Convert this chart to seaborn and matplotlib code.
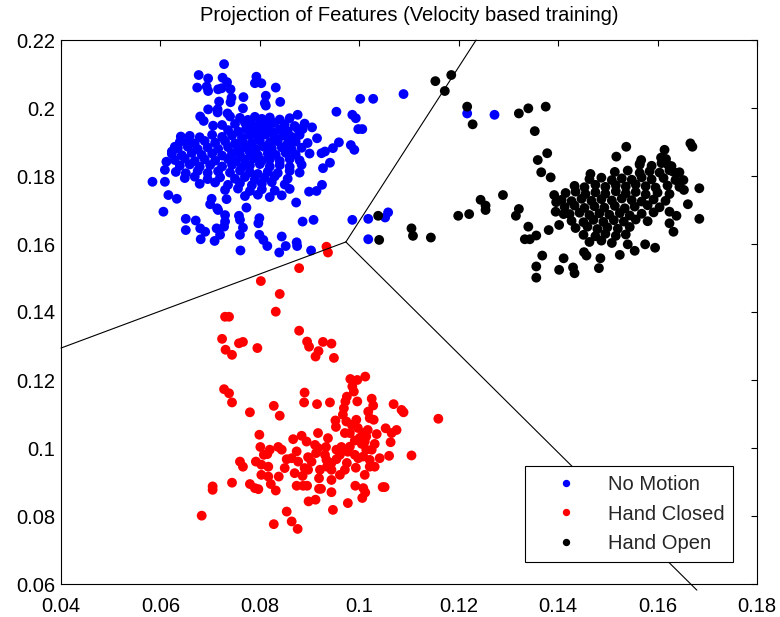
import matplotlib
matplotlib.use("Agg")
import matplotlib.pyplot as plt
import seaborn as sns
import pandas as pd

# Projected feature samples per class (x, y)
no_motion = [
    (0.0728, 0.2129), (0.0677, 0.2097), (0.0696, 0.2087), (0.0725, 0.2089), (0.0734, 0.2076),
    (0.0793, 0.2092), (0.0790, 0.2073), (0.0803, 0.2073), (0.0674, 0.2060), (0.0693, 0.2063),
    (0.0696, 0.2050), (0.0716, 0.2055), (0.0723, 0.2058), (0.0741, 0.2055), (0.0832, 0.2060),
    (0.0812, 0.2036), (0.0743, 0.2030), (0.0741, 0.2017), (0.0767, 0.2032), (0.0718, 0.2019),
    (0.0810, 0.2014), (0.0812, 0.2007), (0.0841, 0.2018), (0.1002, 0.2027), (0.1028, 0.2027),
    (0.1089, 0.2041), (0.0696, 0.1996), (0.0715, 0.1996), (0.0715, 0.1987), (0.0735, 0.1984),
    (0.0740, 0.1975), (0.0766, 0.1999), (0.0876, 0.1980), (0.0954, 0.1989), (0.0986, 0.1980),
    (0.0993, 0.1970), (0.0680, 0.1975), (0.0687, 0.1962), (0.0706, 0.1948), (0.0724, 0.1950),
    (0.0998, 0.1938), (0.1006, 0.1938), (0.0905, 0.1943), (0.0886, 0.1938), (0.0641, 0.1916),
    (0.0655, 0.1899), (0.0629, 0.1886), (0.0623, 0.1872), (0.0612, 0.1842), (0.0609, 0.1818),
    (0.0609, 0.1783), (0.0584, 0.1783), (0.0616, 0.1744), (0.0633, 0.1733), (0.0606, 0.1695),
    (0.0915, 0.1911), (0.0959, 0.1899), (0.0983, 0.1891), (0.0990, 0.1877), (0.0947, 0.1882),
    (0.0931, 0.1872), (0.0924, 0.1867), (0.0941, 0.1839), (0.0927, 0.1823), (0.0925, 0.1774),
    (0.0914, 0.1756), (0.0899, 0.1754), (0.0873, 0.1722), (0.0773, 0.1707), (0.0703, 0.1733),
    (0.0700, 0.1717), (0.0714, 0.1705), (0.0716, 0.1700), (0.0733, 0.1732), (0.0651, 0.1674),
    (0.0671, 0.1669), (0.0651, 0.1641), (0.0680, 0.1646), (0.0690, 0.1636), (0.0681, 0.1614),
    (0.0713, 0.1646), (0.0720, 0.1627), (0.0709, 0.1609), (0.0730, 0.1685), (0.0730, 0.1666),
    (0.0728, 0.1651), (0.0758, 0.1683), (0.0760, 0.1671), (0.0766, 0.1648), (0.0760, 0.1627),
    (0.0761, 0.1581), (0.0799, 0.1676), (0.0797, 0.1661), (0.0799, 0.1627), (0.0807, 0.1612),
    (0.0815, 0.1594), (0.0844, 0.1622), (0.0852, 0.1594), (0.0839, 0.1575), (0.0874, 0.1605),
    (0.0875, 0.1594), (0.0886, 0.1666), (0.0908, 0.1671), (0.0903, 0.1581), (0.0986, 0.1671),
    (0.1018, 0.1674), (0.1018, 0.1614), (0.1052, 0.1678), (0.1058, 0.1693), (0.1217, 0.1984),
    (0.1272, 0.1980),
    (0.0760, 0.1971), (0.0776, 0.1965), (0.0790, 0.1974), (0.0804, 0.1968), (0.0820, 0.1972),
    (0.0840, 0.1966), (0.0860, 0.1970),
    (0.0750, 0.1953), (0.0770, 0.1957), (0.0784, 0.1950), (0.0800, 0.1955), (0.0816, 0.1949),
    (0.0830, 0.1956), (0.0850, 0.1952), (0.0870, 0.1947), (0.0890, 0.1954),
    (0.0736, 0.1935), (0.0756, 0.1931), (0.0772, 0.1938), (0.0790, 0.1933), (0.0806, 0.1937),
    (0.0824, 0.1930), (0.0840, 0.1936), (0.0856, 0.1932), (0.0876, 0.1939),
    (0.0659, 0.1918), (0.0679, 0.1914), (0.0704, 0.1921), (0.0724, 0.1915), (0.0744, 0.1919),
    (0.0764, 0.1913), (0.0780, 0.1920), (0.0796, 0.1916), (0.0812, 0.1922), (0.0830, 0.1914),
    (0.0848, 0.1919), (0.0864, 0.1915), (0.0880, 0.1921),
    (0.0639, 0.1900), (0.0669, 0.1896), (0.0689, 0.1903), (0.0710, 0.1898), (0.0730, 0.1902),
    (0.0750, 0.1896), (0.0766, 0.1901), (0.0784, 0.1897), (0.0800, 0.1904), (0.0820, 0.1898),
    (0.0836, 0.1902), (0.0856, 0.1896), (0.0872, 0.1901), (0.0896, 0.1897),
    (0.0635, 0.1882), (0.0655, 0.1886), (0.0675, 0.1879), (0.0695, 0.1884), (0.0716, 0.1880),
    (0.0736, 0.1885), (0.0756, 0.1878), (0.0772, 0.1883), (0.0792, 0.1879), (0.0808, 0.1886),
    (0.0824, 0.1881), (0.0844, 0.1884), (0.0864, 0.1878), (0.0884, 0.1883),
    (0.0623, 0.1865), (0.0643, 0.1861), (0.0663, 0.1868), (0.0683, 0.1862), (0.0704, 0.1866),
    (0.0724, 0.1860), (0.0744, 0.1867), (0.0760, 0.1863), (0.0780, 0.1869), (0.0796, 0.1861),
    (0.0816, 0.1866), (0.0832, 0.1862), (0.0852, 0.1868), (0.0872, 0.1863), (0.0900, 0.1866),
    (0.0629, 0.1847), (0.0649, 0.1851), (0.0669, 0.1844), (0.0689, 0.1849), (0.0710, 0.1845),
    (0.0736, 0.1850), (0.0752, 0.1843), (0.0770, 0.1848), (0.0788, 0.1852), (0.0804, 0.1845),
    (0.0820, 0.1849), (0.0840, 0.1844), (0.0860, 0.1850), (0.0880, 0.1846),
    (0.0639, 0.1830), (0.0659, 0.1834), (0.0679, 0.1827), (0.0700, 0.1832), (0.0724, 0.1828),
    (0.0744, 0.1833), (0.0764, 0.1826), (0.0780, 0.1831), (0.0800, 0.1835), (0.0820, 0.1828),
    (0.0840, 0.1832), (0.0860, 0.1827), (0.0884, 0.1833),
    (0.0631, 0.1812), (0.0651, 0.1808), (0.0675, 0.1815), (0.0695, 0.1809), (0.0716, 0.1814),
    (0.0740, 0.1810), (0.0760, 0.1816), (0.0780, 0.1811), (0.0796, 0.1806), (0.0816, 0.1813),
    (0.0836, 0.1809), (0.0860, 0.1815), (0.0880, 0.1810),
    (0.0649, 0.1794), (0.0669, 0.1798), (0.0695, 0.1791), (0.0720, 0.1796), (0.0750, 0.1792),
    (0.0770, 0.1797), (0.0790, 0.1790), (0.0810, 0.1795), (0.0830, 0.1799), (0.0856, 0.1792),
    (0.0679, 0.1777), (0.0710, 0.1781), (0.0736, 0.1774), (0.0760, 0.1779), (0.0784, 0.1773),
    (0.0804, 0.1778), (0.0824, 0.1782), (0.0850, 0.1775),
    (0.0730, 0.1759), (0.0756, 0.1763), (0.0780, 0.1756), (0.0804, 0.1761), (0.0830, 0.1757),
    (0.0860, 0.1762),
    (0.0770, 0.1741), (0.0796, 0.1745), (0.0820, 0.1738), (0.0844, 0.1743),
]

hand_closed = [
    (0.0879, 0.1529), (0.0802, 0.1491), (0.0840, 0.1453), (0.0832, 0.1401), (0.0730, 0.1386),
    (0.0738, 0.1386), (0.0879, 0.1345), (0.0724, 0.1321), (0.0758, 0.1308), (0.0766, 0.1312),
    (0.0731, 0.1289), (0.0744, 0.1274), (0.0795, 0.1294), (0.0895, 0.1313), (0.0899, 0.1298),
    (0.0927, 0.1312), (0.0944, 0.1307), (0.0918, 0.1285), (0.0912, 0.1269), (0.0949, 0.1265),
    (0.0934, 0.1592), (0.0937, 0.1575), (0.0982, 0.1203), (0.0996, 0.1200), (0.1012, 0.1210),
    (0.0986, 0.1181), (0.0989, 0.1166), (0.0728, 0.1173), (0.0738, 0.1161), (0.0744, 0.1134),
    (0.0890, 0.1163), (0.0889, 0.1134), (0.0915, 0.1129), (0.0941, 0.1134), (0.0828, 0.1124),
    (0.0840, 0.1095), (0.0780, 0.1105), (0.0972, 0.1137), (0.0975, 0.1151), (0.0969, 0.1117),
    (0.0967, 0.1098), (0.0996, 0.1137), (0.1025, 0.1145), (0.1028, 0.1125), (0.1069, 0.1129),
    (0.1085, 0.1112), (0.1089, 0.1105), (0.1159, 0.1086), (0.0952, 0.1081), (0.0974, 0.1078),
    (0.0994, 0.1083), (0.1018, 0.1107), (0.1021, 0.1088), (0.1029, 0.1083), (0.1053, 0.1058),
    (0.1075, 0.1053), (0.1065, 0.1044), (0.0799, 0.1039), (0.0867, 0.1026), (0.0884, 0.1036),
    (0.0917, 0.1044), (0.0937, 0.1029), (0.0971, 0.1044), (0.0981, 0.1044), (0.1008, 0.1044),
    (0.1014, 0.1034), (0.1035, 0.1041), (0.1063, 0.1017), (0.0894, 0.1019), (0.0911, 0.1009),
    (0.0801, 0.1003), (0.0820, 0.0995), (0.0837, 0.1003), (0.0844, 0.0995), (0.0808, 0.0980),
    (0.0815, 0.0982), (0.0874, 0.0990), (0.0913, 0.0985), (0.0931, 0.0980), (0.0954, 0.0995),
    (0.0964, 0.1003), (0.0981, 0.1004), (0.0991, 0.1022), (0.1011, 0.1019), (0.1031, 0.1012),
    (0.1014, 0.0995), (0.1060, 0.0977), (0.1105, 0.0978), (0.0760, 0.0960), (0.0766, 0.0945),
    (0.0792, 0.0960), (0.0803, 0.0951), (0.0817, 0.0945), (0.0854, 0.0967), (0.0864, 0.0970),
    (0.0877, 0.0960), (0.0897, 0.0973), (0.0904, 0.0960), (0.0934, 0.0965), (0.0944, 0.0956),
    (0.0954, 0.0967), (0.0975, 0.0956), (0.0991, 0.0980), (0.0998, 0.0970), (0.1008, 0.0975),
    (0.1021, 0.0965), (0.1031, 0.0945), (0.1041, 0.0970), (0.0850, 0.0941), (0.0870, 0.0926),
    (0.0890, 0.0941), (0.0897, 0.0936), (0.0886, 0.0918), (0.0921, 0.0936), (0.0919, 0.0911),
    (0.0935, 0.0945), (0.0944, 0.0936), (0.1011, 0.0921), (0.1021, 0.0945), (0.0803, 0.0921),
    (0.0817, 0.0916), (0.0838, 0.0916), (0.0744, 0.0898), (0.0780, 0.0894), (0.0790, 0.0882),
    (0.0797, 0.0879), (0.0822, 0.0894), (0.0832, 0.0875), (0.0874, 0.0889), (0.0887, 0.0889),
    (0.0895, 0.0889), (0.0919, 0.0880), (0.0923, 0.0880), (0.0944, 0.0906), (0.0944, 0.0870),
    (0.0992, 0.0889), (0.1008, 0.0882), (0.1012, 0.0869), (0.1006, 0.0853), (0.1047, 0.0885),
    (0.1051, 0.0885), (0.0705, 0.0887), (0.0705, 0.0877), (0.0898, 0.0843), (0.0912, 0.0848),
    (0.0977, 0.0838), (0.0947, 0.0818), (0.0683, 0.0801), (0.0854, 0.0813), (0.0864, 0.0784),
    (0.0876, 0.0762), (0.0828, 0.0776),
    (0.0985, 0.1068), (0.0997, 0.1059), (0.1017, 0.1053), (0.0953, 0.1062), (0.0977, 0.0989),
    (0.1001, 0.1030), (0.1005, 0.1012), (0.0961, 0.0980), (0.1025, 0.0995), (0.0933, 0.1003),
    (0.0917, 0.1000), (0.0971, 0.0936), (0.0993, 0.0942), (0.0961, 0.0921),
]

hand_open = [
    (0.1185, 0.2097), (0.1153, 0.2079), (0.1172, 0.2050), (0.1217, 0.2004), (0.1228, 0.1952),
    (0.1321, 0.1984), (0.1340, 0.1999), (0.1375, 0.2004), (0.1353, 0.1932), (0.1378, 0.1867),
    (0.1359, 0.1847), (0.1366, 0.1811), (0.1385, 0.1796), (0.1537, 0.1886), (0.1517, 0.1857),
    (0.1465, 0.1806), (0.1567, 0.1847), (0.1564, 0.1833), (0.1614, 0.1877), (0.1607, 0.1854),
    (0.1617, 0.1850), (0.1621, 0.1833), (0.1666, 0.1896), (0.1670, 0.1886), (0.1684, 0.1764),
    (0.1684, 0.1674), (0.1661, 0.1717), (0.1652, 0.1788), (0.1653, 0.1759), (0.1631, 0.1813),
    (0.1638, 0.1808), (0.1392, 0.1744), (0.1396, 0.1723), (0.1395, 0.1695), (0.1411, 0.1688),
    (0.1381, 0.1641), (0.1402, 0.1656), (0.1340, 0.1651), (0.1356, 0.1625), (0.1333, 0.1614),
    (0.1343, 0.1614), (0.1321, 0.1703), (0.1315, 0.1683), (0.1289, 0.1744), (0.1244, 0.1730),
    (0.1254, 0.1713), (0.1254, 0.1700), (0.1199, 0.1683), (0.1221, 0.1688), (0.1144, 0.1619),
    (0.1368, 0.1566), (0.1356, 0.1534), (0.1356, 0.1501), (0.1411, 0.1558), (0.1402, 0.1524),
    (0.1430, 0.1531), (0.1433, 0.1514), (0.1482, 0.1529), (0.1485, 0.1558), (0.1452, 0.1576),
    (0.1457, 0.1566), (0.1524, 0.1568), (0.1540, 0.1599), (0.1554, 0.1580), (0.1575, 0.1599),
    (0.1595, 0.1589), (0.1632, 0.1636), (0.1624, 0.1661), (0.1624, 0.1695), (0.1638, 0.1683),
    (0.1038, 0.1683), (0.1040, 0.1612), (0.1105, 0.1646), (0.1108, 0.1624),
    (0.1564, 0.1836), (0.1588, 0.1830), (0.1608, 0.1838), (0.1628, 0.1829),
    (0.1514, 0.1812), (0.1540, 0.1816), (0.1564, 0.1809), (0.1584, 0.1814), (0.1604, 0.1810),
    (0.1624, 0.1817), (0.1644, 0.1811),
    (0.1463, 0.1791), (0.1487, 0.1795), (0.1508, 0.1788), (0.1528, 0.1793), (0.1548, 0.1789),
    (0.1568, 0.1796), (0.1588, 0.1790), (0.1612, 0.1794), (0.1636, 0.1788),
    (0.1433, 0.1771), (0.1453, 0.1767), (0.1475, 0.1774), (0.1495, 0.1768), (0.1516, 0.1773),
    (0.1536, 0.1769), (0.1556, 0.1775), (0.1576, 0.1770), (0.1596, 0.1766), (0.1620, 0.1772),
    (0.1644, 0.1768),
    (0.1415, 0.1750), (0.1435, 0.1754), (0.1455, 0.1747), (0.1475, 0.1752), (0.1495, 0.1748),
    (0.1516, 0.1755), (0.1536, 0.1749), (0.1556, 0.1753), (0.1576, 0.1746), (0.1600, 0.1751),
    (0.1624, 0.1747),
    (0.1407, 0.1730), (0.1427, 0.1726), (0.1447, 0.1733), (0.1467, 0.1727), (0.1487, 0.1732),
    (0.1508, 0.1728), (0.1528, 0.1734), (0.1548, 0.1729), (0.1568, 0.1725), (0.1592, 0.1731),
    (0.1616, 0.1727),
    (0.1413, 0.1709), (0.1433, 0.1713), (0.1453, 0.1706), (0.1473, 0.1711), (0.1493, 0.1707),
    (0.1514, 0.1712), (0.1534, 0.1705), (0.1554, 0.1710), (0.1580, 0.1714), (0.1604, 0.1708),
    (0.1423, 0.1688), (0.1443, 0.1692), (0.1463, 0.1685), (0.1483, 0.1690), (0.1503, 0.1686),
    (0.1524, 0.1691), (0.1544, 0.1684), (0.1568, 0.1689), (0.1592, 0.1693),
    (0.1427, 0.1668), (0.1451, 0.1664), (0.1471, 0.1671), (0.1491, 0.1665), (0.1512, 0.1670),
    (0.1532, 0.1666), (0.1556, 0.1672), (0.1580, 0.1667),
    (0.1435, 0.1647), (0.1459, 0.1651), (0.1479, 0.1644), (0.1499, 0.1649), (0.1520, 0.1645),
    (0.1544, 0.1650),
    (0.1451, 0.1627), (0.1475, 0.1623), (0.1495, 0.1630), (0.1516, 0.1624), (0.1536, 0.1628),
    (0.1463, 0.1606), (0.1487, 0.1610), (0.1508, 0.1603),
]

class_names = ["No Motion", "Hand Closed", "Hand Open"]
class_colors = ["#0000ff", "#ff0000", "#000000"]

# Linear decision boundaries meeting at a common vertex
boundary_vertex = (0.0973, 0.1606)
boundary_ends = [(0.1235, 0.2200), (0.0400, 0.1294), (0.1679, 0.0582)]

xtick_values = [0.04, 0.06, 0.08, 0.10, 0.12, 0.14, 0.16, 0.18]
xtick_labels = ["0.04", "0.06", "0.08", "0.1", "0.12", "0.14", "0.16", "0.18"]
ytick_values = [0.06, 0.08, 0.10, 0.12, 0.14, 0.16, 0.18, 0.20, 0.22]
ytick_labels = ["0.06", "0.08", "0.1", "0.12", "0.14", "0.16", "0.18", "0.2", "0.22"]

rows = []
for name, pts in zip(class_names, [no_motion, hand_closed, hand_open]):
    for x, y in pts:
        rows.append({"x": x, "y": y, "cls": name})
df = pd.DataFrame(rows)

sns.set_style("white")
plt.rcParams["font.family"] = ["Liberation Sans", "DejaVu Sans"]

fig = plt.figure(figsize=(7.8, 6.17), dpi=100)
ax = fig.add_axes([61 / 780, 33 / 617, 696 / 780, 544 / 617])

sns.scatterplot(data=df, x="x", y="y", hue="cls", hue_order=class_names,
                palette=dict(zip(class_names, class_colors)), s=50,
                linewidth=0, ax=ax, legend=True)

for end in boundary_ends:
    ax.plot([boundary_vertex[0], end[0]], [boundary_vertex[1], end[1]],
            color="black", linewidth=0.8, clip_on=False, zorder=1)

ax.set_xlim(0.04, 0.18)
ax.set_ylim(0.06, 0.22)
ax.set_xticks(xtick_values)
ax.set_xticklabels(xtick_labels)
ax.set_yticks(ytick_values)
ax.set_yticklabels(ytick_labels)
ax.set_xlabel("")
ax.set_ylabel("")
ax.tick_params(direction="in", top=True, right=True, length=4, width=0.8,
               labelsize=14.5, colors="black")
ax.tick_params(axis="x", pad=9)
ax.tick_params(axis="y", pad=4)
for sp in ax.spines.values():
    sp.set_visible(True)
    sp.set_color("black")
    sp.set_linewidth(0.8)

ax.set_title("Projection of Features (Velocity based training)", fontsize=14.5,
             pad=14, color="black")

handles, labels = ax.get_legend_handles_labels()
leg = ax.legend(handles, labels, loc="upper left",
                bbox_to_anchor=(0.6667, 0.2169), borderaxespad=0,
                fontsize=14.5, markerscale=0.75, handlelength=3.2,
                handletextpad=0.45, labelspacing=0.52, borderpad=0.45,
                frameon=True, fancybox=False, framealpha=1)
leg.get_frame().set_edgecolor("black")
leg.get_frame().set_linewidth(0.8)

fig.savefig("out.png", dpi=100, facecolor="white")
